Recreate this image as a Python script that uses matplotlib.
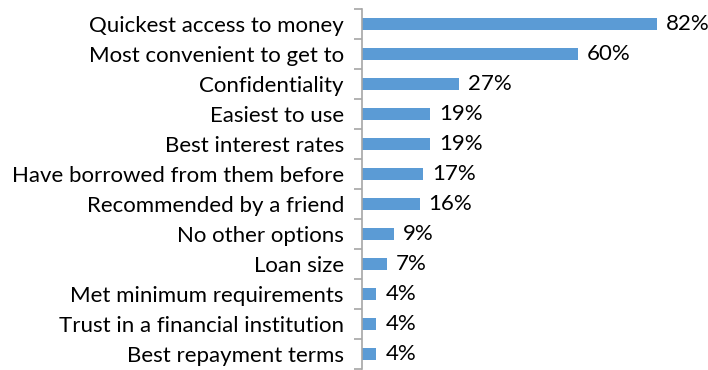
import numpy as np
import matplotlib
matplotlib.use("Agg")
import matplotlib.pyplot as plt

reasons = ["Quickest access to money", "Most convenient to get to", "Confidentiality",
           "Easiest to use", "Best interest rates", "Have borrowed from them before",
           "Recommended by a friend", "No other options", "Loan size",
           "Met minimum requirements", "Trust in a financial institution",
           "Best repayment terms"]
values = [82, 60, 27, 19, 19, 17, 16, 9, 7, 4, 4, 4]

plt.rcParams['font.family'] = ['Lato', 'DejaVu Sans']
FS = 16

fig = plt.figure(figsize=(7.08, 3.70), dpi=100)
# axes placed so that x=0 sits at ~362px and categories span y 9..369
ax = fig.add_axes([362 / 708, 1 / 370, 345 / 708, 360 / 370])

y = np.arange(len(reasons))
ax.barh(y, values, height=0.37, color='#5B9BD5')
for yi, v in zip(y, values):
    ax.text(v + 2.5, yi, f"{v}%", va='center', ha='left', fontsize=FS, color='black')

ax.set_xlim(0, 96)
ax.set_ylim(len(reasons) - 0.5, -0.5)

for s in ['top', 'right', 'bottom']:
    ax.spines[s].set_visible(False)
ax.spines['left'].set_color('#A6A6A6')
ax.spines['left'].set_linewidth(1.2)
ax.set_xticks([])

ax.set_yticks(y)
ax.set_yticklabels(reasons, fontsize=FS)
ax.tick_params(axis='y', which='major', length=0, pad=13)
ax.set_yticks(np.arange(-0.5, len(reasons)), minor=True)
ax.tick_params(axis='y', which='minor', length=6, width=1.2, color='#A6A6A6')

fig.savefig('out.png', dpi=100)
